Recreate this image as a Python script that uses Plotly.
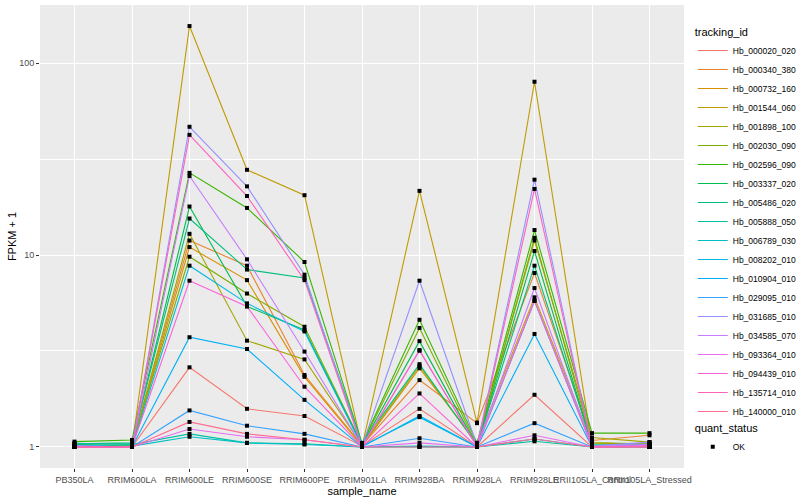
import plotly.graph_objects as go

samples = ["PB350LA", "RRIM600LA", "RRIM600LE", "RRIM600SE", "RRIM600PE", "RRIM901LA",
           "RRIM928BA", "RRIM928LA", "RRIM928LE", "RRII105LA_Control", "RRII105LA_Stressed"]

tracking_ids = ["Hb_000020_020", "Hb_000340_380", "Hb_000732_160", "Hb_001544_060",
                "Hb_001898_100", "Hb_002030_090", "Hb_002596_090", "Hb_003337_020",
                "Hb_005486_020", "Hb_005888_050", "Hb_006789_030", "Hb_008202_010",
                "Hb_010904_010", "Hb_029095_010", "Hb_031685_010", "Hb_034585_070",
                "Hb_093364_010", "Hb_094439_010", "Hb_135714_010", "Hb_140000_010"]

# FPKM + 1 values, one list per tracking_id, in sample order
hb_000020_020 = [1.00, 1.00, 2.60, 1.58, 1.45, 1.01, 1.58, 1.00, 1.87, 1.00, 1.01]
hb_000340_380 = [1.00, 1.01, 11.9, 8.8, 2.37, 1.02, 2.23, 1.33, 8.06, 1.08, 1.15]
hb_000732_160 = [1.00, 1.00, 11.0, 7.4, 2.32, 1.01, 2.57, 1.05, 6.02, 1.05, 1.03]
hb_001544_060 = [1.00, 1.00, 156.0, 27.8, 20.5, 1.00, 21.6, 1.34, 80.0, 1.02, 1.00]
hb_001898_100 = [1.00, 1.01, 12.9, 3.58, 2.86, 1.02, 2.64, 1.03, 11.9, 1.12, 1.06]
hb_002030_090 = [1.01, 1.02, 9.8, 6.3, 4.23, 1.03, 4.17, 1.02, 12.3, 1.05, 1.04]
hb_002596_090 = [1.066, 1.087, 26.8, 17.6, 9.2, 1.04, 4.60, 1.05, 13.5, 1.18, 1.18]
hb_003337_020 = [1.03, 1.04, 17.9, 5.4, 4.07, 1.02, 3.56, 1.01, 10.5, 1.02, 1.01]
hb_005486_020 = [1.04, 1.05, 15.5, 8.4, 7.6, 1.05, 2.70, 1.02, 8.8, 1.03, 1.02]
hb_005888_050 = [1.045, 1.03, 1.17, 1.05, 1.04, 1.00, 1.00, 1.00, 1.07, 1.00, 1.00]
hb_006789_030 = [1.02, 1.01, 1.13, 1.05, 1.03, 1.00, 1.01, 1.00, 1.10, 1.00, 1.00]
hb_008202_010 = [1.00, 1.00, 8.8, 5.6, 4.0, 1.01, 1.43, 1.00, 5.76, 1.01, 1.02]
hb_010904_010 = [1.00, 1.00, 3.73, 3.24, 1.76, 1.00, 1.45, 1.00, 3.88, 1.00, 1.01]
hb_029095_010 = [1.00, 1.00, 1.55, 1.29, 1.17, 1.00, 1.11, 1.00, 1.33, 1.00, 1.03]
hb_031685_010 = [1.016, 1.00, 46.6, 22.8, 7.9, 1.01, 7.35, 1.02, 24.7, 1.01, 1.06]
hb_034585_070 = [1.00, 1.00, 25.8, 9.5, 3.14, 1.01, 3.17, 1.01, 6.73, 1.01, 1.03]
hb_093364_010 = [1.00, 1.00, 1.24, 1.13, 1.09, 1.00, 1.05, 1.00, 1.15, 1.00, 1.02]
hb_094439_010 = [1.00, 1.00, 7.35, 5.4, 2.06, 1.00, 1.90, 1.00, 5.78, 1.00, 1.01]
hb_135714_010 = [1.00, 1.00, 42.3, 20.3, 7.4, 1.00, 3.20, 1.00, 22.1, 1.00, 1.00]
hb_140000_010 = [1.00, 1.00, 1.35, 1.17, 1.09, 1.00, 1.00, 1.00, 1.10, 1.00, 1.00]

series = [hb_000020_020, hb_000340_380, hb_000732_160, hb_001544_060, hb_001898_100,
          hb_002030_090, hb_002596_090, hb_003337_020, hb_005486_020, hb_005888_050,
          hb_006789_030, hb_008202_010, hb_010904_010, hb_029095_010, hb_031685_010,
          hb_034585_070, hb_093364_010, hb_094439_010, hb_135714_010, hb_140000_010]

y_ticks = [1, 10, 100]
y_tick_labels = ["1", "10", "100"]
y_minor = [10 ** 0.5, 10 ** 1.5]

palette = ["#F8766D", "#EA8331", "#D89000", "#C09B00", "#A3A500", "#7CAE00", "#39B600",
           "#00BB4E", "#00BF7D", "#00C1A3", "#00BFC4", "#00BAE0", "#00B0F6", "#35A2FF",
           "#9590FF", "#C77CFF", "#E76BF3", "#FA62DB", "#FF62BC", "#FF6C91"]

FONT = "Liberation Sans"
fig = go.Figure()

for tid, vals, col in zip(tracking_ids, series, palette):
    fig.add_trace(go.Scatter(x=samples, y=vals, mode="lines", name=tid,
                             line=dict(color=col, width=1.1), legend="legend"))

all_x, all_y = [], []
for vals in series:
    all_x.extend(samples)
    all_y.extend(vals)
fig.add_trace(go.Scatter(x=all_x, y=all_y, mode="markers", name="OK",
                         marker=dict(symbol="square", size=4, color="black"),
                         legend="legend2"))

fig.update_layout(
    width=800, height=500,
    margin=dict(l=40, r=116, t=5, b=32, autoexpand=False),
    paper_bgcolor="white", plot_bgcolor="#EBEBEB",
    font=dict(family=FONT, size=9, color="black"),
    showlegend=True,
    legend=dict(title=dict(text="tracking_id", font=dict(size=11)),
                x=1.0136, xanchor="left", y=0.964, yanchor="top",
                itemwidth=30,
                font=dict(size=8.5), bgcolor="rgba(0,0,0,0)", tracegroupgap=0),
    legend2=dict(title=dict(text="quant_status", font=dict(size=11)),
                 x=1.0136, xanchor="left", y=0.108, yanchor="top",
                 itemwidth=30,
                 font=dict(size=8.5), bgcolor="rgba(0,0,0,0)"),
    xaxis=dict(title=dict(text="sample_name", font=dict(size=11), standoff=1),
               type="category", categoryorder="array", categoryarray=samples,
               range=[-0.6, len(samples) - 0.4], tickangle=0, automargin=False,
               showgrid=True, gridcolor="white", gridwidth=1.1,
               ticks="outside", ticklen=3, tickcolor="#333333", tickwidth=1,
               tickfont=dict(size=9, color="#4D4D4D"),
               zeroline=False, showline=False),
    yaxis=dict(title=dict(text="FPKM + 1", font=dict(size=11), standoff=0),
               type="log", range=[-0.1097, 2.3029], automargin=False,
               tickmode="array", tickvals=y_ticks, ticktext=y_tick_labels,
               showgrid=True, gridcolor="white", gridwidth=1.1,
               minor=dict(tickmode="array", tickvals=y_minor, showgrid=True,
                          gridcolor="white", gridwidth=0.5, ticks=""),
               ticks="outside", ticklen=3, tickcolor="#333333", tickwidth=1,
               tickfont=dict(size=9, color="#4D4D4D"),
               zeroline=False, showline=False),
)

fig.write_html("out.html", config={"displayModeBar": False},
               post_script="document.body.style.margin='0px';document.body.style.overflow='hidden';")
